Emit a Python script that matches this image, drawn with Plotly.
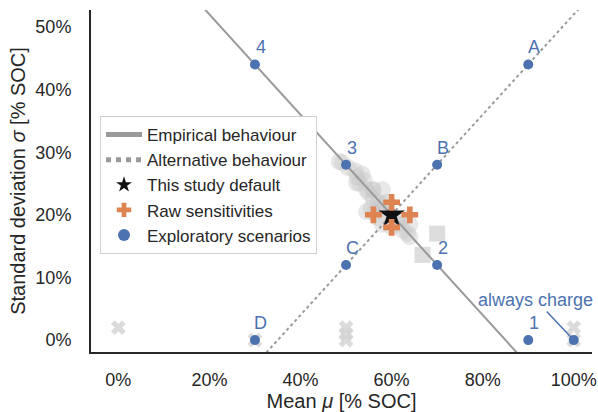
import plotly.graph_objects as go

# Behaviour lines (mean, std) endpoints in % SOC
emp_mu = [17.5, 87.5]
emp_sigma = [54.0, -2.0]
alt_mu = [32.5, 102.5]
alt_sigma = [-2.0, 54.0]

# Default parameterisation
default_mu = [60]
default_sigma = [20]

# Raw sensitivity variants
sens_mu = [56, 64, 60, 60]
sens_sigma = [20, 20, 22, 18]

# Exploratory scenarios
scen_mu = [30, 50, 70, 90, 90, 70, 50, 30, 100]
scen_sigma = [44, 28, 12, 0, 44, 28, 12, 0, 0]
scen_labels = ["4", "3", "2", "1", "A", "B", "C", "D", ""]

# Background literature values (grey)
lit_circle_mu = [48.5, 50.5, 52.0, 52.5, 53.0, 54.0, 54.5, 55.0, 56.0, 57.0, 58.0,
                 55.5, 54.5, 57.0, 58.0, 60.0, 61.5, 62.5, 63.5, 64.0, 64.0, 62.5,
                 59.0, 58.0, 56.0, 53.5, 52.3, 55.8, 57.3, 56.2, 61.7, 58.0, 49.2]
lit_circle_sigma = [28.5, 27.5, 27.0, 26.0, 25.0, 25.5, 24.0, 23.5, 22.5, 22.0, 24.0,
                    21.0, 20.5, 19.5, 18.5, 18.0, 18.5, 17.5, 17.0, 16.5, 18.5, 19.5,
                    22.0, 21.0, 24.0, 26.5, 25.1, 24.0, 21.2, 20.3, 19.2, 21.7, 28.3]
lit_square_mu = [70, 66.8]
lit_square_sigma = [17, 13.6]
lit_x_mu = [0, 30, 50, 50, 50, 100, 100]
lit_x_sigma = [2, 0, 0, 1, 2, 0, 2]

# Axis ticks
x_ticks = [0, 20, 40, 60, 80, 100]
x_tick_text = ["0%", "20%", "40%", "60%", "80%", "100%"]
y_ticks = [0, 10, 20, 30, 40, 50]
y_tick_text = ["0%", "10%", "20%", "30%", "40%", "50%"]

BLUE = "#4c72b0"
ORANGE = "#dd8452"
GREY_LINE = "#9a9a9a"
FONT = "Liberation Sans, Arial, sans-serif"

fig = go.Figure()

# grey background markers
fig.add_trace(go.Scatter(
    x=lit_circle_mu, y=lit_circle_sigma, mode="markers", showlegend=False,
    marker=dict(symbol="circle", size=17, color="rgba(200,200,200,0.42)", line=dict(width=0)),
    hoverinfo="skip"))
fig.add_trace(go.Scatter(
    x=lit_square_mu, y=lit_square_sigma, mode="markers", showlegend=False,
    marker=dict(symbol="square", size=16, color="rgba(210,210,210,0.75)", line=dict(width=0)),
    hoverinfo="skip"))
fig.add_trace(go.Scatter(
    x=lit_x_mu, y=lit_x_sigma, mode="markers", showlegend=False,
    marker=dict(symbol="x", size=13, color="rgba(210,210,210,0.8)", line=dict(width=0)),
    hoverinfo="skip"))

# behaviour lines
fig.add_trace(go.Scatter(
    x=emp_mu, y=emp_sigma, mode="lines", name="Empirical behaviour",
    line=dict(color=GREY_LINE, width=2)))
fig.add_trace(go.Scatter(
    x=alt_mu, y=alt_sigma, mode="lines", name="Alternative behaviour",
    line=dict(color=GREY_LINE, width=2, dash="dot")))

# default, sensitivities, scenarios
fig.add_trace(go.Scatter(
    x=default_mu, y=default_sigma, mode="markers", name="This study default",
    marker=dict(symbol="star", size=20, color="#111111", line=dict(width=0))))
fig.add_trace(go.Scatter(
    x=sens_mu, y=sens_sigma, mode="markers", name="Raw sensitivities",
    marker=dict(symbol="cross", size=14, color=ORANGE, line=dict(width=0))))
fig.add_trace(go.Scatter(
    x=scen_mu, y=scen_sigma, mode="markers", name="Exploratory scenarios",
    marker=dict(symbol="circle", size=10, color=BLUE, line=dict(width=0))))

annotations = []
for mx, sy, lab in zip(scen_mu, scen_sigma, scen_labels):
    if lab:
        annotations.append(dict(
            x=mx, y=sy, text=lab, showarrow=False, xshift=6, yshift=17,
            font=dict(family=FONT, size=18, color=BLUE)))
annotations.append(dict(
    x=scen_mu[-1], y=scen_sigma[-1], text="always charge", showarrow=True,
    ax=-38, ay=-40, arrowhead=0, arrowwidth=1.5, arrowcolor=BLUE, standoff=4,
    font=dict(family=FONT, size=18, color=BLUE)))

fig.update_layout(
    width=598, height=412,
    margin=dict(l=91, r=6, t=10, b=60),
    paper_bgcolor="white", plot_bgcolor="white",
    font=dict(family=FONT, size=18, color="#262626"),
    annotations=annotations,
    legend=dict(
        x=0.018, y=0.69, xanchor="left", yanchor="top",
        bgcolor="white", bordercolor="#d0d0d0", borderwidth=1,
        font=dict(family=FONT, size=17, color="#262626"),
        itemsizing="constant", itemwidth=36,
    ),
    xaxis=dict(
        range=[-6, 104], tickvals=x_ticks, ticktext=x_tick_text, automargin=False,
        showgrid=False, zeroline=False, showline=True, linecolor="#262626", linewidth=2,
        ticks="", ticklabelstandoff=10, tickfont=dict(size=18),
        title=dict(text="Mean <i>μ</i> [% SOC]", font=dict(family=FONT, size=20), standoff=4),
    ),
    yaxis=dict(
        range=[-1.9, 52.7], tickvals=y_ticks, ticktext=y_tick_text, automargin=False,
        showgrid=False, zeroline=False, showline=True, linecolor="#262626", linewidth=2,
        ticks="", ticklabelstandoff=14, tickfont=dict(size=18),
        title=dict(text="Standard deviation <i>σ</i> [% SOC]", font=dict(family=FONT, size=20), standoff=4),
    ),
)

fig.write_html("out.html")
